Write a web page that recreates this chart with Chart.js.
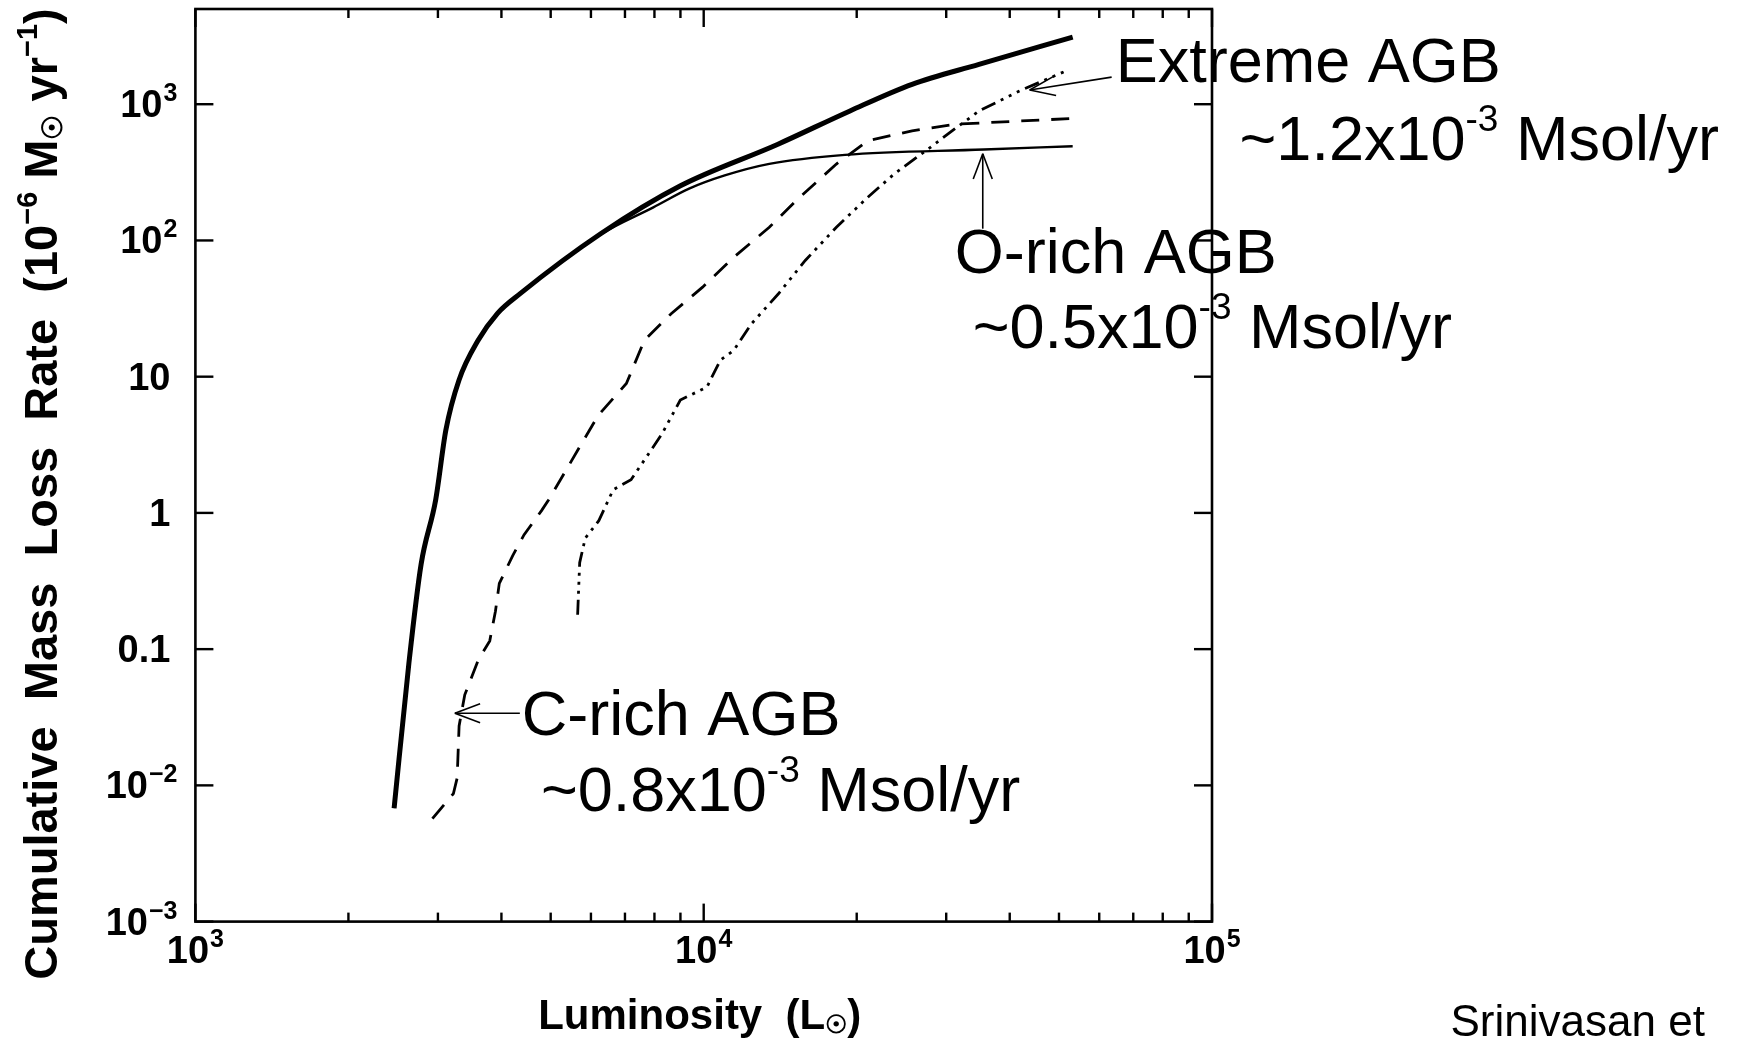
<!DOCTYPE html>
<html>
<head>
<meta charset="utf-8">
<script src="https://cdn.jsdelivr.net/npm/chart.js@4.4.0/dist/chart.umd.min.js"></script>
<style>
html,body{margin:0;padding:0;background:#fff;overflow:hidden}
#wrap{width:1741px;height:1047px;position:relative;background:#fff}
</style>
</head>
<body>
<div id="wrap"><canvas id="c" width="1741" height="1047"></canvas></div>
<script>
// ---- data (luminosity in Lsun, cumulative mass-loss rate in 1e-6 Msun/yr) ----
const totalLum  = [2460, 2630, 2780, 2970, 3110, 3300, 3600, 3930, 4360, 6270, 9000, 14000, 19400, 25700, 34800, 53200];
const totalRate = [0.0068, 0.0785, 0.42, 1.25, 4.06, 9.42, 18.5, 29.2, 40.9, 112, 252, 509, 893, 1400, 1962, 3110];

const oRichLum  = [2460, 2630, 2780, 2970, 3110, 3300, 3600, 3930, 4360, 6270, 7960, 9360, 11000, 13460, 18970, 35570, 53200];
const oRichRate = [0.0068, 0.078, 0.41, 1.24, 4.0, 9.3, 18.4, 29, 40.7, 111, 175, 240, 300, 365, 425, 465, 492];

const cRichLum  = [2926, 3218, 3273, 3302, 3388, 3602, 3794, 3893, 3962, 4210, 4433, 4797, 4955, 6200, 7045, 7643, 8630, 9950, 11460, 13460, 15200, 18240, 21010, 25700, 31450, 52700];
const cRichRate = [0.0057, 0.0087, 0.0113, 0.0273, 0.0462, 0.0834, 0.115, 0.19, 0.304, 0.486, 0.692, 1.04, 1.25, 5.2, 8.91, 18.5, 29, 45.4, 75.3, 125, 196, 364, 538, 638, 714, 785];

const extremeLum  = [5649, 5702, 5848, 6218, 6637, 7195, 7961, 8290, 8995, 10150, 10780, 11460, 12420, 14030, 15840, 18240, 21010, 23710, 27890, 31450, 34830, 41800, 51600];
const extremeRate = [0.179, 0.432, 0.653, 0.877, 1.48, 1.75, 3.06, 3.84, 6.73, 8.41, 13.2, 15.6, 24.5, 40.6, 71.3, 125, 207, 308, 481, 675, 893, 1251, 1755];

// ---- axes / tick labels: [base, superscript] ----
const xMajorTicks  = [1e3, 1e4, 1e5];
const xMajorLabels = [['10', '3'], ['10', '4'], ['10', '5']];
const yTicks       = [1e-3, 1e-2, 0.1, 1, 10, 100, 1000];
const yTickLabels  = [['10', '−3'], ['10', '−2'], ['0.1', ''], ['1', ''], ['10', ''], ['10', '2'], ['10', '3']];
// titles as [text, kind] parts: 0 normal, 1 superscript, 2 subscript
const xTitleParts = [['Luminosity  (L', 0], ['☉', 2], [')', 0]];
const yTitleParts = [['Cumulative  Mass  Loss  Rate  (10', 0], ['−6', 1], [' M', 0], ['☉', 2], [' yr', 0], ['−1', 1], [')', 0]];

// ---- annotations (anchored in data units) ----
const notes = [
  {parts: [['Extreme AGB', 0]], at: [64640, 1457]},
  {parts: [['~1.2x10', 0], ['-3', 1], [' Msol/yr', 0]], at: [113300, 391]},
  {parts: [['O-rich AGB', 0]], at: [31170, 57.3]},
  {parts: [['~0.5x10', 0], ['-3', 1], [' Msol/yr', 0]], at: [33820, 16.3]},
  {parts: [['C-rich AGB', 0]], at: [4388, 0.02335]},
  {parts: [['~0.8x10', 0], ['-3', 1], [' Msol/yr', 0]], at: [4783, 0.00648]},
  {parts: [['Srinivasan et', 2]], at: [294600, 0.0001437]}
];
const arrows = [
  {from: [63470, 1580], to: [43780, 1273]},
  {from: [35400, 122],  to: [35400, 433]},
  {from: [4348, 0.0338], to: [3239, 0.0338]}
];

const FONT = '"Liberation Sans", Arial, Helvetica, sans-serif';

function pts(xs, ys) { return xs.map((v, i) => ({x: v, y: ys[i]})); }
function isPow10(v) { const l = Math.log10(v); return Math.abs(l - Math.round(l)) < 1e-9; }
function idxOf(arr, v) { return arr.findIndex(t => Math.abs(t - v) / t < 1e-9); }

const xTickValues = [];
for (let d = 1e3; d < 1e5; d *= 10) for (let m = 1; m < 10; m++) xTickValues.push(m * d);
xTickValues.push(1e5);

// draw "base" + raised superscript. align: 'left' | 'right' | 'center'
function drawPow(ctx, base, sup, x, y, align) {
  const bf = 'bold 38px ' + FONT, sf = 'bold 25px ' + FONT;
  ctx.font = bf; const bw = ctx.measureText(base).width;
  ctx.font = sf; const sw = sup ? ctx.measureText(sup).width + 1 : 0;
  const w = bw + sw;
  let x0 = align === 'right' ? x - w : align === 'center' ? x - w / 2 : x;
  ctx.font = bf; ctx.fillText(base, x0, y);
  if (sup) { ctx.font = sf; ctx.fillText(sup, x0 + bw + 1, y - 16); }
}

function drawParts(ctx, parts, cx, cy, size) {
  const fonts = {0: 'bold ' + size + 'px ' + FONT, 1: 'bold ' + Math.round(size * 0.62) + 'px ' + FONT, 2: 'bold ' + Math.round(size * 0.6) + 'px ' + FONT};
  const dys = {0: 0, 1: -size * 0.42, 2: size * 0.1};
  let total = 0;
  const widths = parts.map(([t, k]) => { ctx.font = fonts[k]; const w = ctx.measureText(t).width; total += w; return w; });
  let px = cx - total / 2;
  parts.forEach(([t, k], i) => { ctx.font = fonts[k]; ctx.fillText(t, px, cy + dys[k]); px += widths[i]; });
}

const framePlugin = {
  id: 'frame',
  afterDraw(chart) {
    const {ctx, chartArea: {left, right, top, bottom}, scales: {x, y}} = chart;
    ctx.save();
    ctx.strokeStyle = '#000';
    ctx.fillStyle = '#000';
    ctx.lineCap = 'butt';
    const line = (x1, y1, x2, y2) => { ctx.beginPath(); ctx.moveTo(x1, y1); ctx.lineTo(x2, y2); ctx.stroke(); };
    ctx.lineWidth = 2.6;
    ctx.strokeRect(left, top, right - left, bottom - top);
    ctx.lineWidth = 2.4;
    ctx.textBaseline = 'alphabetic';
    ctx.textAlign = 'left';
    x.ticks.forEach(t => {
      const px = x.getPixelForValue(t.value);
      const len = isPow10(t.value) ? 18 : 9;
      line(px, bottom, px, bottom - len);
      line(px, top, px, top + len);
      const i = idxOf(xMajorTicks, t.value);
      if (i >= 0) drawPow(ctx, xMajorLabels[i][0], xMajorLabels[i][1], px, bottom + 41, 'center');
    });
    y.ticks.forEach(t => {
      const py = y.getPixelForValue(t.value);
      line(left, py, left + 18, py);
      line(right, py, right - 18, py);
      const i = idxOf(yTicks, t.value);
      if (i >= 0) {
        const [b, s] = yTickLabels[i];
        drawPow(ctx, b, s, s ? left - 18 : left - 25, py + 13, 'right');
      }
    });
    // axis titles
    drawParts(ctx, xTitleParts, (left + right) / 2 - 4, 1029, 42);
    ctx.save();
    ctx.translate(57, 494);
    ctx.rotate(-Math.PI / 2);
    drawParts(ctx, yTitleParts, 0, 0, 47);
    ctx.restore();
    // arrows
    ctx.lineWidth = 1.6;
    arrows.forEach(a => {
      const x1 = x.getPixelForValue(a.from[0]), y1 = y.getPixelForValue(a.from[1]);
      const x2 = x.getPixelForValue(a.to[0]), y2 = y.getPixelForValue(a.to[1]);
      line(x1, y1, x2, y2);
      const ang = Math.atan2(y1 - y2, x1 - x2);
      const hl = 27, ha = 0.36;
      line(x2, y2, x2 + hl * Math.cos(ang + ha), y2 + hl * Math.sin(ang + ha));
      line(x2, y2, x2 + hl * Math.cos(ang - ha), y2 + hl * Math.sin(ang - ha));
    });
    // annotation texts
    notes.forEach(n => {
      let px = x.getPixelForValue(n.at[0]);
      const py = y.getPixelForValue(n.at[1]);
      n.parts.forEach(([txt, kind]) => {
        let size = 63, dy = 0;
        if (kind === 1) { size = 37; dy = -29; }
        if (kind === 2) { size = 44; }
        ctx.font = size + 'px ' + FONT;
        ctx.fillText(txt, px, py + dy);
        px += ctx.measureText(txt).width;
      });
    });
    ctx.restore();
  }
};

new Chart(document.getElementById('c'), {
  type: 'scatter',
  data: {
    datasets: [
      {label: 'Total', data: pts(totalLum, totalRate), showLine: true, borderColor: '#000', borderWidth: 5,
       pointRadius: 0, cubicInterpolationMode: 'monotone', borderJoinStyle: 'round'},
      {label: 'O-rich AGB', data: pts(oRichLum, oRichRate), showLine: true, borderColor: '#000', borderWidth: 2.4,
       pointRadius: 0, cubicInterpolationMode: 'monotone'},
      {label: 'C-rich AGB', data: pts(cRichLum, cRichRate), showLine: true, borderColor: '#000', borderWidth: 2.8,
       pointRadius: 0, borderDash: [18, 12], tension: 0},
      {label: 'Extreme AGB', data: pts(extremeLum, extremeRate), showLine: true, borderColor: '#000', borderWidth: 2.8,
       pointRadius: 0, borderDash: [15, 6, 3, 6, 3, 6, 3, 6], tension: 0}
    ]
  },
  options: {
    responsive: false,
    animation: false,
    devicePixelRatio: 1,
    layout: {autoPadding: false, padding: {left: 0, right: 529, top: 9, bottom: 0}},
    plugins: {legend: {display: false}, tooltip: {enabled: false}},
    scales: {
      x: {
        type: 'logarithmic', position: 'bottom', min: 1e3, max: 1e5,
        afterBuildTicks: s => { s.ticks = xTickValues.map(v => ({value: v})); },
        afterFit: s => { s.height = 125.4; s.paddingLeft = 0; s.paddingRight = 0; },
        grid: {display: false}, border: {display: false},
        ticks: {display: false, autoSkip: false},
        title: {display: false}
      },
      y: {
        type: 'logarithmic', position: 'left', min: 1e-3, max: 5000,
        afterBuildTicks: s => { s.ticks = yTicks.map(v => ({value: v})); },
        afterFit: s => { s.width = 195.4; s.paddingTop = 0; s.paddingBottom = 0; },
        grid: {display: false}, border: {display: false},
        ticks: {display: false, autoSkip: false},
        title: {display: false}
      }
    }
  },
  plugins: [framePlugin]
});
</script>
</body>
</html>
